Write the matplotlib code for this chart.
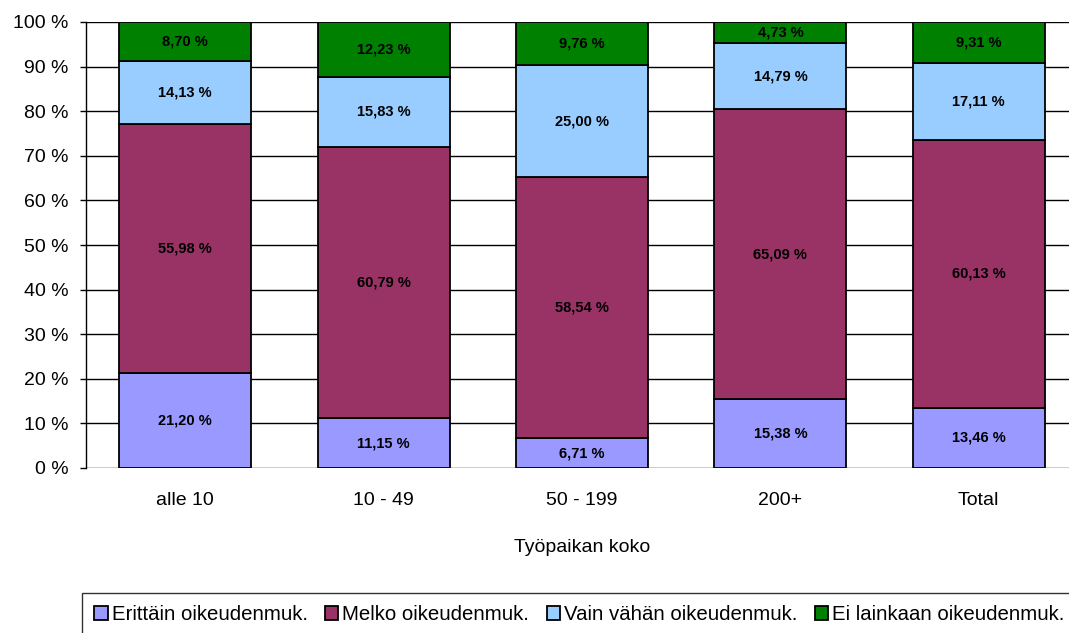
import numpy as np
import matplotlib
matplotlib.use("Agg")
import matplotlib.pyplot as plt

plt.rcParams['font.family'] = ['Liberation Sans', 'DejaVu Sans']

# Työpaikan koko -ryhmät
categories = ['alle 10', '10 - 49', '50 - 199', '200+', 'Total']

# Osuudet (%) vastausluokittain
erittain = [21.20, 11.15, 6.71, 15.38, 13.46]
melko = [55.98, 60.79, 58.54, 65.09, 60.13]
vain_vahan = [14.13, 15.83, 25.00, 14.79, 17.11]
ei_lainkaan = [8.70, 12.23, 9.76, 4.73, 9.31]

series_names = ['Erittäin oikeudenmuk.', 'Melko oikeudenmuk.',
                'Vain vähän oikeudenmuk.', 'Ei lainkaan oikeudenmuk.']
colors = ['#9999FF', '#993366', '#99CCFF', '#008000']

W, H = 1069, 633
dpi = 100
fig = plt.figure(figsize=(W / dpi, H / dpi), dpi=dpi)
ax = fig.add_axes([86 / W, 1 - 468 / H, (1078 - 86) / W, 446 / H])

x = np.arange(len(categories))
bottom = np.zeros(len(categories))
handles = []
for vals, name, col in zip([erittain, melko, vain_vahan, ei_lainkaan], series_names, colors):
    vals = np.array(vals)
    b = ax.bar(x, vals, 0.665, bottom=bottom, color=col, edgecolor='black',
               linewidth=1.3, label=name, zorder=3)
    handles.append(b)
    for xi, v, b0 in zip(x, vals, bottom):
        txt = f"{v:.2f} %".replace('.', ',')
        ax.text(xi, b0 + v / 2, txt, ha='center', va='center', fontsize=10.5,
                fontweight='bold', color='black', zorder=4)
    bottom += vals

ax.set_xlim(-0.5, len(categories) - 0.5)
ax.set_ylim(0, 100)
ax.set_yticks(np.arange(0, 101, 10))
ax.set_yticklabels([f"{t} %" for t in range(0, 101, 10)], fontsize=14)
ax.set_xticks(x)
ax.set_xticklabels(categories, fontsize=14)
ax.tick_params(axis='x', length=0, pad=17)
ax.tick_params(axis='y', length=4.5, width=1, direction='out', pad=8)
ax.yaxis.grid(True, color='black', linewidth=1)
ax.set_axisbelow(True)
for s in ['top', 'right', 'bottom']:
    ax.spines[s].set_visible(False)
ax.spines['left'].set_linewidth(1)
ax.set_xlabel('Työpaikan koko', fontsize=14, labelpad=22)

leg = fig.legend(handles=handles, loc='upper left', bbox_to_anchor=(82 / W, 1 - 593 / H),
                 ncol=4, fontsize=14.7, frameon=True, fancybox=False, edgecolor='black',
                 handlelength=0.65, handleheight=0.65, handletextpad=0.2,
                 columnspacing=0.85, borderpad=0.6, borderaxespad=0)
leg.get_frame().set_linewidth(1)

fig.savefig('out.png', dpi=dpi)
